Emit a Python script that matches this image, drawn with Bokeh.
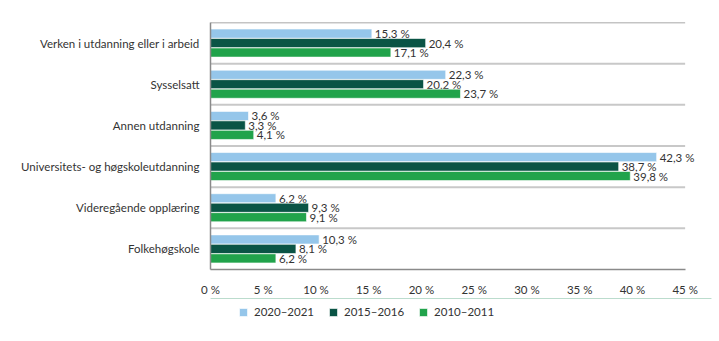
from bokeh.plotting import figure
from bokeh.layouts import column
from bokeh.models import ColumnDataSource, FactorRange, Legend, LegendItem, FixedTicker, CustomJSTickFormatter
from bokeh.transform import dodge
from bokeh.core.properties import value
from bokeh.embed import file_html
from bokeh.resources import INLINE

categories = ["Verken i utdanning eller i arbeid", "Sysselsatt", "Annen utdanning",
              "Universitets- og høgskoleutdanning", "Videregående opplæring", "Folkehøgskole"]
series_names = ["2020–2021", "2015–2016", "2010–2011"]
v2020 = [15.3, 22.3, 3.6, 42.3, 6.2, 10.3]
v2015 = [20.4, 20.2, 3.3, 38.7, 9.3, 8.1]
v2010 = [17.1, 23.7, 4.1, 39.8, 9.1, 6.2]
x_ticks = [0, 5, 10, 15, 20, 25, 30, 35, 40, 45]
x_max = 45

colors = ["#95c6ea", "#0a5445", "#21a34b"]
FONT = "Lato"

def fmt(v):
    return ("%.1f" % v).replace(".", ",") + " %"

src = ColumnDataSource(dict(
    cat=categories,
    v0=v2020, v1=v2015, v2=v2010,
    l0=[fmt(v) for v in v2020], l1=[fmt(v) for v in v2015], l2=[fmt(v) for v in v2010],
))

p = figure(width=719, height=298, y_range=FactorRange(*list(reversed(categories))),
           x_range=(0, 47.5), output_backend="svg", toolbar_location=None,
           min_border_left=210, min_border_right=8, min_border_top=22, min_border_bottom=20)
p.outline_line_color = None
p.background_fill_color = "white"
p.border_fill_color = "white"

offsets = [0.23, 0.0, -0.23]
for i in range(3):
    p.hbar(y=dodge("cat", offsets[i], range=p.y_range), right="v%d" % i, left=0,
           height=0.222, source=src, fill_color=colors[i], line_color="white", line_width=0.6)
    p.text(x="v%d" % i, y=dodge("cat", offsets[i], range=p.y_range), text="l%d" % i, source=src,
           x_offset=3, text_baseline="middle", text_align="left", text_font=value(FONT),
           text_font_size="11.5px", text_color="#333333")

# category separators (light) and top border (dark), limited to the 0–45 % span
sep_y = [1, 2, 3, 4, 5]
p.segment(x0=[0] * len(sep_y), x1=[x_max] * len(sep_y), y0=sep_y, y1=sep_y,
          line_color="#c8c8c8", line_width=2)
p.segment(x0=[0], x1=[x_max], y0=[6], y1=[6], line_color="#8a8a8a", line_width=1.5)

p.xgrid.grid_line_color = None
p.ygrid.grid_line_color = None

p.xaxis.ticker = FixedTicker(ticks=x_ticks)
p.xaxis.bounds = (0, x_max)
p.xaxis.formatter = CustomJSTickFormatter(code="return tick + ' %';")
p.xaxis.major_tick_line_color = None
p.xaxis.minor_tick_line_color = None
p.xaxis.axis_line_color = "#8a8a8a"
p.xaxis.axis_line_width = 1.5
p.xaxis.major_label_text_font = FONT
p.xaxis.major_label_text_font_size = "11.5px"
p.xaxis.major_label_text_color = "#333333"
p.xaxis.major_label_standoff = 7

p.yaxis.major_tick_line_color = None
p.yaxis.minor_tick_line_color = None
p.yaxis.axis_line_color = "#8a8a8a"
p.yaxis.axis_line_width = 1.5
p.yaxis.major_label_text_font = FONT
p.yaxis.major_label_text_font_size = "11.5px"
p.yaxis.major_label_text_color = "#333333"
p.yaxis.major_label_standoff = 5

# legend strip below the chart (frames of the column are aligned, so x is relative to x=210)
lg = figure(width=719, height=43, x_range=(0, 1), y_range=(0, 1), output_backend="svg",
            toolbar_location=None, min_border=0, min_border_left=0, min_border_right=0,
            min_border_top=0, min_border_bottom=0)
lg.axis.visible = False
lg.xgrid.grid_line_color = None
lg.ygrid.grid_line_color = None
lg.outline_line_color = None
items = []
for i in range(3):
    r = lg.hbar(y=[5], right=[1], left=0, height=0.5, fill_color=colors[i],
                line_color="white", line_width=0.6)
    items.append(LegendItem(label=series_names[i], renderers=[r]))
legend = Legend(items=items, orientation="horizontal", location=(28, 23),
                glyph_width=10, glyph_height=10, label_text_font=FONT,
                label_text_font_size="11.5px", label_text_color="#333333",
                spacing=14, label_standoff=6, padding=0, margin=0,
                label_height=12, border_line_color=None, background_fill_alpha=0)
lg.add_layout(legend, "center")

open("out.html", "w").write(file_html(column(p, lg, spacing=0), INLINE))
